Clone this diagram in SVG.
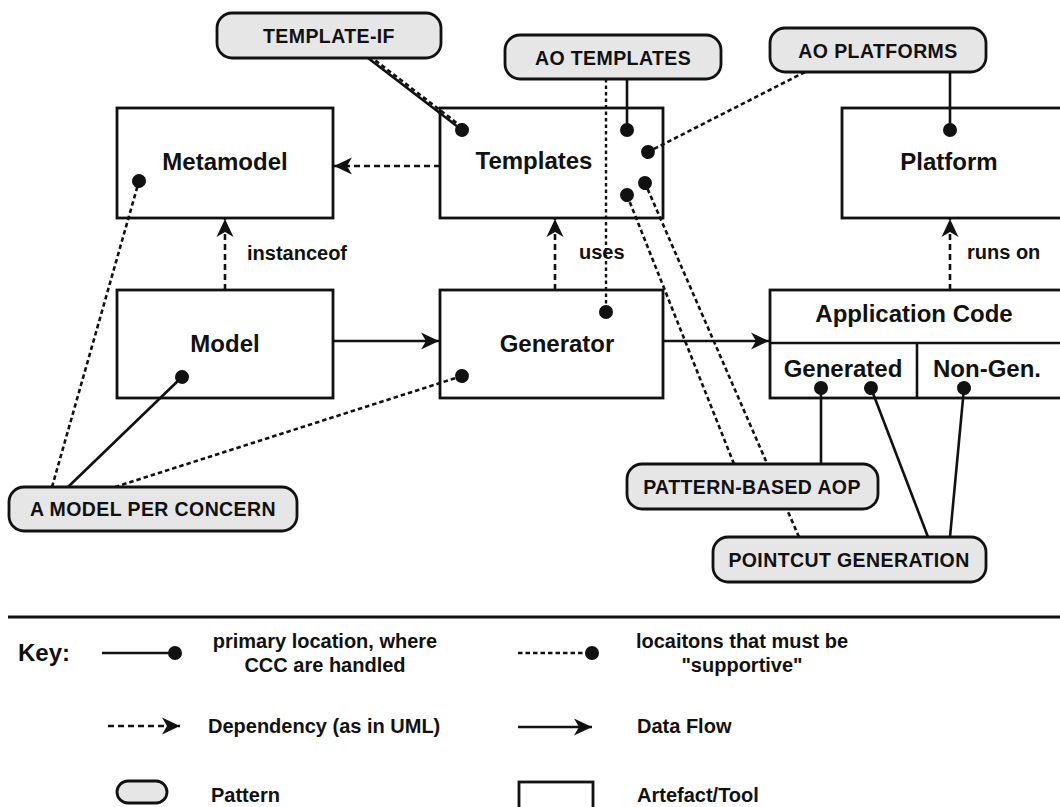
<svg xmlns="http://www.w3.org/2000/svg" width="1060" height="807" viewBox="0 0 1060 807">
<style>
text{font-family:"Liberation Sans",Arial,Helvetica,sans-serif;font-weight:bold;fill:#111}
.box{fill:#fff;stroke:#111;stroke-width:2.8}
.pill{fill:#e6e6e6;stroke:#111;stroke-width:2.8}
.bl{font-size:24px;text-anchor:middle}
.pl{font-size:19.5px;text-anchor:middle;letter-spacing:0.4px}
.lb{font-size:20px}
.kt{font-size:20px}
.solid{fill:none;stroke:#111;stroke-width:2.6}
.dep{fill:none;stroke:#111;stroke-width:2.6;stroke-dasharray:6 4}
.sup{fill:none;stroke:#111;stroke-width:2.6;stroke-dasharray:4.5 3}
.dot3{fill:none;stroke:#111;stroke-width:2.4;stroke-dasharray:3.5 3}
</style>
<defs>
<marker id="dot" markerUnits="userSpaceOnUse" markerWidth="16" markerHeight="16" refX="8" refY="8" orient="auto">
<circle cx="8" cy="8" r="7" fill="#111"/>
</marker>
<marker id="arr" markerUnits="userSpaceOnUse" markerWidth="22" markerHeight="20" refX="19" refY="10" orient="auto">
<path d="M1,1.5 L19,10 L1,18.5 L6,10 Z" fill="#111"/>
</marker>
</defs>
<rect width="1060" height="807" fill="#fff"/>

<g id="metamodel"><rect class="box" x="117" y="108" width="216" height="110"/><text class="bl" x="225" y="170">Metamodel</text></g>
<g id="templates"><rect class="box" x="440" y="108" width="223" height="110"/><text class="bl" x="534" y="169">Templates</text></g>
<g id="platform"><rect class="box" x="842" y="108" width="230" height="110"/><text class="bl" x="949" y="170">Platform</text></g>
<g id="model"><rect class="box" x="117" y="290" width="216" height="108"/><text class="bl" x="225" y="352">Model</text></g>
<g id="generator"><rect class="box" x="440" y="290" width="223" height="108"/><text class="bl" x="557" y="352">Generator</text></g>
<g id="appcode"><rect class="box" x="770" y="290" width="300" height="108"/><line class="solid" x1="770" y1="343" x2="1070" y2="343"/><line class="solid" x1="917" y1="343" x2="917" y2="398"/><text class="bl" x="914" y="322">Application Code</text><text class="bl" x="843" y="377">Generated</text><text class="bl" x="987" y="377">Non-Gen.</text></g>

<g id="connectors">
<line class="dep" x1="440" y1="166" x2="334" y2="166" marker-end="url(#arr)"/>
<line class="dep" x1="225" y1="290" x2="225" y2="219" marker-end="url(#arr)"/>
<line class="dep" x1="555" y1="290" x2="555" y2="219" marker-end="url(#arr)"/>
<line class="dep" x1="950" y1="290" x2="950" y2="219" marker-end="url(#arr)"/>
<line class="solid" x1="333" y1="341" x2="439" y2="341" marker-end="url(#arr)"/>
<line class="solid" x1="663" y1="341" x2="769" y2="341" marker-end="url(#arr)"/>
<line class="solid" x1="368" y1="58" x2="462" y2="130" marker-end="url(#dot)"/>
<line class="sup" x1="369.5" y1="56" x2="462" y2="127"/>
<line class="solid" x1="627" y1="79" x2="627" y2="130" marker-end="url(#dot)"/>
<line class="dot3" x1="606" y1="79" x2="606" y2="312" marker-end="url(#dot)"/>
<line class="sup" x1="805" y1="72" x2="648" y2="152" marker-end="url(#dot)"/>
<line class="solid" x1="950" y1="72" x2="950" y2="130" marker-end="url(#dot)"/>
<line class="solid" x1="68" y1="487" x2="182" y2="377" marker-end="url(#dot)"/>
<line class="sup" x1="115" y1="487" x2="462" y2="376" marker-end="url(#dot)"/>
<line class="sup" x1="52" y1="487" x2="139" y2="181" marker-end="url(#dot)"/>
<line class="solid" x1="821" y1="464" x2="821" y2="388" marker-end="url(#dot)"/>
<line class="sup" x1="734" y1="464" x2="627" y2="195" marker-end="url(#dot)"/>
<line class="sup" x1="799" y1="537" x2="645" y2="183" marker-end="url(#dot)"/>
<line class="solid" x1="928" y1="537" x2="871" y2="388" marker-end="url(#dot)"/>
<line class="solid" x1="950" y1="537" x2="964" y2="388" marker-end="url(#dot)"/>
<text class="lb" x="247" y="260">instanceof</text>
<text class="lb" x="579" y="259">uses</text>
<text class="lb" x="967" y="259">runs on</text>
</g>

<g id="template-if"><rect class="pill" x="217" y="13" width="224" height="45" rx="15"/><text class="pl" x="329" y="43">TEMPLATE-IF</text></g>
<g id="ao-templates"><rect class="pill" x="505" y="35" width="216" height="44" rx="15"/><text class="pl" x="613" y="65">AO TEMPLATES</text></g>
<g id="ao-platforms"><rect class="pill" x="770" y="28" width="216" height="44" rx="15"/><text class="pl" x="878" y="58">AO PLATFORMS</text></g>
<g id="model-per-concern"><rect class="pill" x="9" y="487" width="288" height="44" rx="15"/><text class="pl" x="153" y="516">A MODEL PER CONCERN</text></g>
<g id="pattern-based-aop"><rect class="pill" x="627" y="464" width="251" height="45" rx="15"/><text class="pl" x="752" y="494">PATTERN-BASED AOP</text></g>
<g id="pointcut-generation"><rect class="pill" x="713" y="537" width="273" height="45" rx="15"/><text class="pl" x="849" y="567">POINTCUT GENERATION</text></g>

<g id="key">
<line x1="8" y1="617" x2="1060" y2="617" stroke="#111" stroke-width="3"/>
<text x="18" y="661" style="font-size:24px">Key:</text>
<line class="solid" x1="102" y1="653" x2="175" y2="653" marker-end="url(#dot)"/>
<text class="kt" x="325" y="648" text-anchor="middle">primary location, where</text>
<text class="kt" x="325" y="672" text-anchor="middle">CCC are handled</text>
<line class="sup" x1="518" y1="653" x2="592" y2="653" marker-end="url(#dot)"/>
<text class="kt" x="742" y="648" text-anchor="middle">locaitons that must be</text>
<text class="kt" x="742" y="672" text-anchor="middle">"supportive"</text>
<line class="dep" x1="108" y1="726" x2="180" y2="726" marker-end="url(#arr)"/>
<text class="kt" x="208" y="733">Dependency (as in UML)</text>
<line class="solid" x1="518" y1="727" x2="592" y2="727" marker-end="url(#arr)"/>
<text class="kt" x="637" y="733">Data Flow</text>
<rect class="pill" x="117" y="781" width="50" height="22" rx="11"/>
<text class="kt" x="211" y="802">Pattern</text>
<rect class="box" x="519" y="782" width="74" height="40"/>
<text class="kt" x="637" y="802">Artefact/Tool</text>
</g>
</svg>
